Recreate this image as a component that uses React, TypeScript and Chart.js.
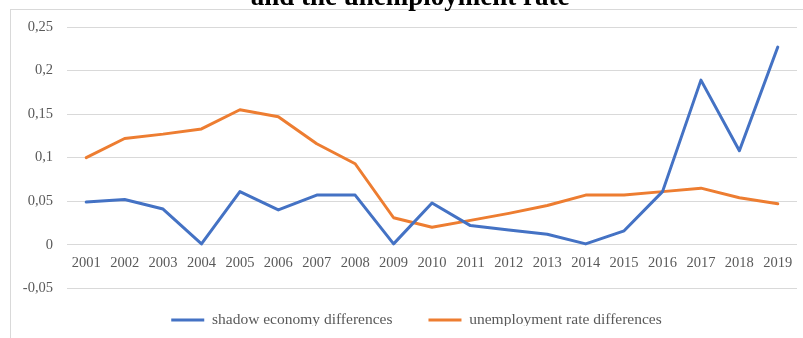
import React, { useEffect, useRef } from "react";
import { Chart, registerables } from "chart.js";

Chart.register(...registerables);

const years = [
  "2001", "2002", "2003", "2004", "2005", "2006", "2007", "2008", "2009", "2010",
  "2011", "2012", "2013", "2014", "2015", "2016", "2017", "2018", "2019",
];
const shadowEconomy = [
  0.049, 0.052, 0.041, 0.001, 0.061, 0.04, 0.057, 0.057, 0.001, 0.048,
  0.022, 0.017, 0.012, 0.001, 0.016, 0.061, 0.189, 0.108, 0.227,
];
const unemployment = [
  0.1, 0.122, 0.127, 0.133, 0.155, 0.147, 0.116, 0.093, 0.031, 0.02,
  0.028, 0.036, 0.045, 0.057, 0.057, 0.061, 0.065, 0.054, 0.047,
];
const yTicks = [-0.05, 0, 0.05, 0.1, 0.15, 0.2, 0.25];
const seriesNames = ["shadow economy differences", "unemployment rate differences"];
const titleText = "and the unemployment rate";

const W = 803;
const H = 338;
const SERIF = "'Liberation Serif', 'Times New Roman', serif";

function fmt(v: number): string {
  const s = String(Number(v.toFixed(2)));
  return s.replace(".", ",");
}

const decorPlugin = {
  id: "decor",
  beforeDraw(chart: any) {
    const ctx = chart.ctx;
    ctx.save();
    ctx.strokeStyle = "#d9d9d9";
    ctx.lineWidth = 1;
    ctx.beginPath();
    ctx.moveTo(10, 9.5);
    ctx.lineTo(W, 9.5);
    ctx.moveTo(10.5, 9);
    ctx.lineTo(10.5, H);
    ctx.stroke();
    ctx.fillStyle = "#000000";
    ctx.font = `bold 27px ${SERIF}`;
    ctx.textAlign = "center";
    ctx.textBaseline = "alphabetic";
    ctx.fillText(titleText, 410, 5);
    ctx.restore();
  },
};

const legendShift = {
  id: "legendShift",
  afterLayout(chart: any) {
    const l = chart.legend;
    if (l) {
      l.top -= 12;
      l.bottom -= 12;
      l.left += 18;
      l.right += 18;
    }
  },
};

export default function App() {
  const ref = useRef<HTMLCanvasElement | null>(null);

  useEffect(() => {
    if (!ref.current) return;
    const tickFont = { family: SERIF, size: 14.5 };
    const chart = new Chart(ref.current, {
      type: "line",
      data: {
        labels: years,
        datasets: [
          {
            label: seriesNames[0],
            data: shadowEconomy,
            borderColor: "#4472C4",
            backgroundColor: "#4472C4",
            borderWidth: 3,
            pointRadius: 0,
            tension: 0,
            borderJoinStyle: "round",
            borderCapStyle: "round",
          },
          {
            label: seriesNames[1],
            data: unemployment,
            borderColor: "#ED7D31",
            backgroundColor: "#ED7D31",
            borderWidth: 3,
            pointRadius: 0,
            tension: 0,
            borderJoinStyle: "round",
            borderCapStyle: "round",
          },
        ],
      },
      options: {
        animation: false,
        responsive: false,
        maintainAspectRatio: false,
        layout: { padding: { left: 0, right: 6, top: 27, bottom: 0 } },
        scales: {
          x: {
            type: "category",
            position: { y: 0 } as any,
            offset: true,
            grid: { display: false, drawTicks: false },
            border: { display: false },
            ticks: {
              color: "#595959",
              font: tickFont,
              padding: 10,
              maxRotation: 0,
              autoSkip: false,
            },
          },
          y: {
            min: -0.05,
            max: 0.25,
            afterBuildTicks: (s: any) => {
              s.ticks = yTicks.map((v) => ({ value: v }));
            },
            afterFit: (s: any) => {
              s.width = 67;
            },
            grid: { color: "#d9d9d9", lineWidth: 1, drawTicks: false },
            border: { display: false },
            ticks: {
              color: "#595959",
              font: tickFont,
              padding: 14,
              callback: (v: any) => fmt(Number(v)),
            },
          },
        },
        plugins: {
          legend: {
            position: "bottom",
            maxHeight: 49.7,
            labels: {
              usePointStyle: true,
              pointStyle: "line",
              pointStyleWidth: 33,
              padding: 36,
              color: "#595959",
              font: { family: SERIF, size: 15.5 },
            },
          } as any,
          tooltip: { enabled: false },
          title: { display: false },
        },
      },
      plugins: [decorPlugin, legendShift],
    });
    return () => chart.destroy();
  }, []);

  return (
    <div style={{ position: "absolute", left: 0, top: 0, width: W, height: H, background: "#fff" }}>
      <canvas ref={ref} width={W} height={H} style={{ display: "block", width: W, height: H }} />
    </div>
  );
}
